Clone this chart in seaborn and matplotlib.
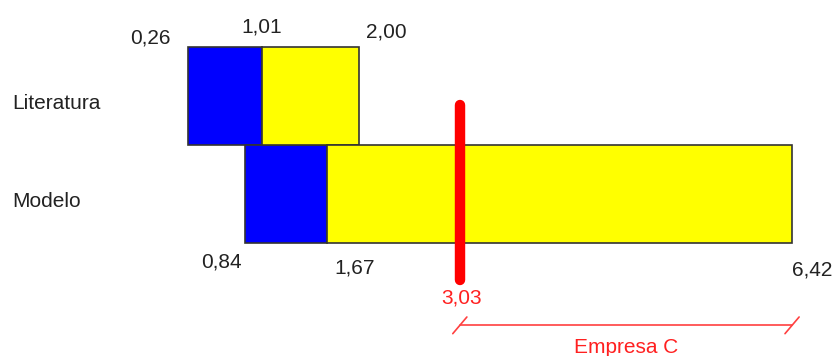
import matplotlib
matplotlib.use("Agg")
import matplotlib.pyplot as plt
import seaborn as sns

# ---------------- DATA ----------------
categories = ["Literatura", "Modelo"]
range_start = [0.26, 0.84]     # begin of blue part
range_mid = [1.01, 1.67]       # blue -> yellow
range_end = [2.00, 6.42]       # end of yellow part
empresa_value = 3.03
empresa_label = "Empresa C"
# --------------------------------------

sns.set_style("white")
plt.rcParams["font.family"] = ["Liberation Sans", "DejaVu Sans"]

fig = plt.figure(figsize=(8.34, 3.56), dpi=100)
ax = fig.add_axes([0, 0, 1, 1])

ypos = list(range(len(categories)))
blue_w = [m - s for s, m in zip(range_start, range_mid)]
yellow_w = [e - m for m, e in zip(range_mid, range_end)]

ax.barh(ypos, blue_w, left=range_start, height=1.0, color="#0000ff",
        edgecolor="#333333", linewidth=1.2)
ax.barh(ypos, yellow_w, left=range_mid, height=1.0, color="#ffff00",
        edgecolor="#333333", linewidth=1.2)

fs = 15
# category labels
for y, cat in zip(ypos, categories):
    ax.annotate(cat, xy=(12 / 834, y), xycoords=("axes fraction", "data"),
                xytext=(0, -7), textcoords="offset pixels",
                ha="left", va="center", fontsize=fs, color="#222222")

# value labels (Literatura above, Modelo below)
lab = lambda v: f"{v:.2f}".replace(".", ",")
ax.annotate(lab(range_start[0]), xy=(range_start[0], -0.5), xytext=(-18, 9),
            textcoords="offset pixels", ha="right", va="center", fontsize=fs, color="#222222")
ax.annotate(lab(range_mid[0]), xy=(range_mid[0], -0.5), xytext=(0, 20),
            textcoords="offset pixels", ha="center", va="center", fontsize=fs, color="#222222")
ax.annotate(lab(range_end[0]), xy=(range_end[0], -0.5), xytext=(7, 15),
            textcoords="offset pixels", ha="left", va="center", fontsize=fs, color="#222222")
ax.annotate(lab(range_start[1]), xy=(range_start[1], 1.5), xytext=(-24, -19),
            textcoords="offset pixels", ha="center", va="center", fontsize=fs, color="#222222")
ax.annotate(lab(range_mid[1]), xy=(range_mid[1], 1.5), xytext=(28, -25),
            textcoords="offset pixels", ha="center", va="center", fontsize=fs, color="#222222")
ax.annotate(lab(range_end[1]), xy=(range_end[1], 1.5), xytext=(20, -27),
            textcoords="offset pixels", ha="center", va="center", fontsize=fs, color="#222222")

# Empresa C marker
ax.plot([empresa_value, empresa_value], [0.09, 1.88], color="#ff0000",
        linewidth=7.5, solid_capstyle="round", zorder=5)
ax.annotate(lab(empresa_value), xy=(empresa_value, 1.5), xytext=(2, -55),
            textcoords="offset pixels", ha="center", va="center", fontsize=fs, color="#ff2020")

# bracket for Empresa C range
yb = 2.34
ax.plot([empresa_value, range_end[1]], [yb, yb], color="#ff4040", linewidth=1.2)
for xv in (empresa_value, range_end[1]):
    ax.plot([xv - 0.072, xv + 0.072], [yb + 0.085, yb - 0.085], color="#ff4040", linewidth=1.2)
ax.text((empresa_value + range_end[1]) / 2, yb + 0.23, empresa_label, ha="center",
        va="center", fontsize=fs, color="#ff2020")

ax.set_xlim(-1.662, 6.848)
ax.set_ylim(2.653, -0.98)
ax.axis("off")

fig.savefig("out.png", dpi=100, facecolor="white")
